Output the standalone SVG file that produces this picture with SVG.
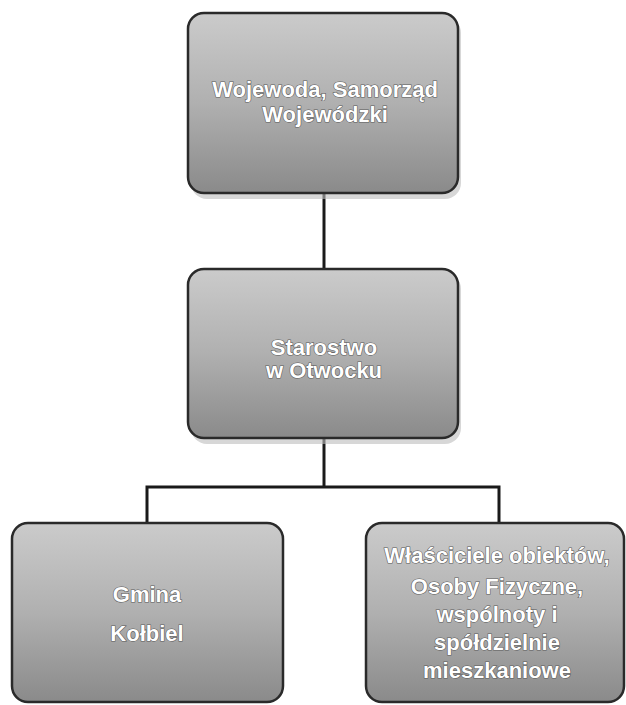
<svg xmlns="http://www.w3.org/2000/svg" width="626" height="705" viewBox="0 0 626 705">
<style>
.box{fill:url(#g);stroke:#2a2a2a;stroke-width:2.5}
.sh{fill:#bdbdbd;opacity:0.6}
.t{font-family:"Liberation Sans",Arial,sans-serif;font-weight:bold;font-size:22px;fill:#ffffff;stroke:#5a5a5a;stroke-width:1.2;paint-order:stroke;text-anchor:middle}
.c{stroke:#1a1a1a;stroke-width:3;fill:none}
</style>
<defs>
<linearGradient id="g" x1="0" y1="0" x2="0" y2="1">
<stop offset="0" stop-color="#cbcbcb"/>
<stop offset="0.5" stop-color="#b0b0b0"/>
<stop offset="1" stop-color="#8a8a8a"/>
</linearGradient>
</defs>
<g id="connectors">
<line class="c" x1="324" y1="193" x2="324" y2="269"/>
<polyline class="c" points="324,438 324,487"/>
<polyline class="c" points="147,523 147,487 499,487 499,523"/>
</g>
<g id="n1">
<rect class="sh" x="191" y="17" width="270" height="182" rx="16"/>
<rect class="box" x="188" y="13" width="270" height="180" rx="16"/>
<text class="t" x="325" y="97">Wojewoda, Samorząd</text>
<text class="t" x="325" y="122">Wojewódzki</text>
</g>
<g id="n2">
<rect class="sh" x="191" y="273" width="270" height="171" rx="16"/>
<rect class="box" x="188" y="269" width="270" height="169" rx="16"/>
<text class="t" x="324" y="355">Starostwo</text>
<text class="t" x="324" y="378">w Otwocku</text>
</g>
<g id="n3">
<rect class="box" x="12" y="523" width="271" height="179" rx="16"/>
<text class="t" x="147" y="602">Gmina</text>
<text class="t" x="147" y="641">Kołbiel</text>
</g>
<g id="n4">
<rect class="box" x="366" y="523" width="258" height="179" rx="16"/>
<text class="t" x="497" y="563">Właściciele obiektów,</text>
<text class="t" x="497" y="594">Osoby Fizyczne,</text>
<text class="t" x="497" y="622">wspólnoty i</text>
<text class="t" x="497" y="650">spółdzielnie</text>
<text class="t" x="497" y="678">mieszkaniowe</text>
</g>
</svg>
